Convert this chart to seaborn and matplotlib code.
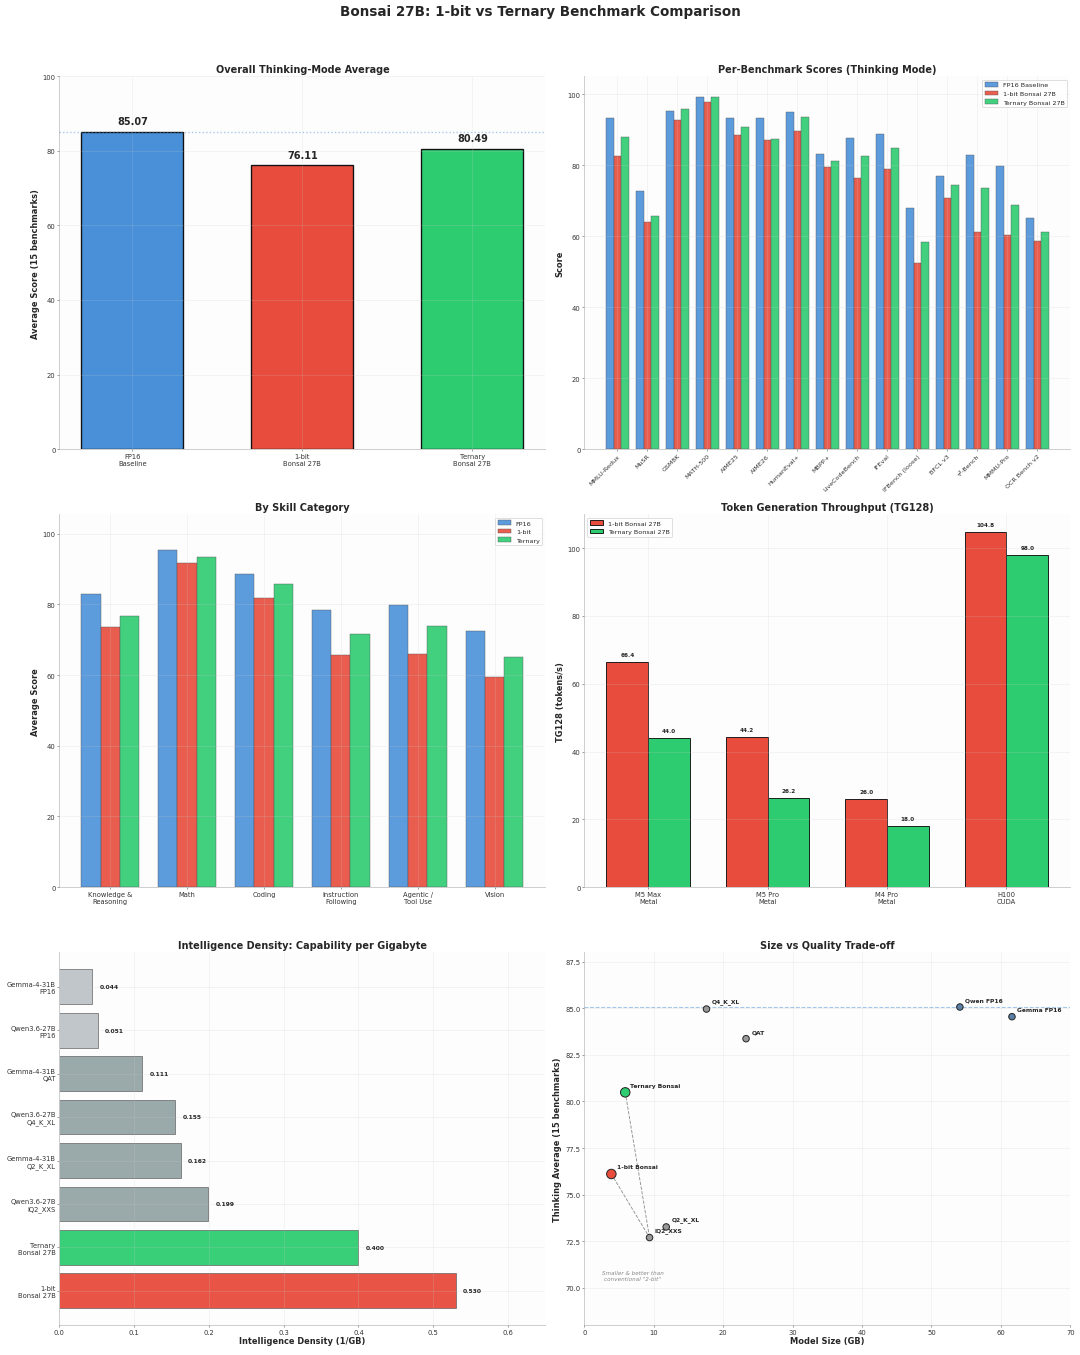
import numpy as np
import pandas as pd
import matplotlib
matplotlib.use("Agg")
import matplotlib.pyplot as plt
import seaborn as sns

# ---- data ----
model_labels = ["FP16\nBaseline", "1-bit\nBonsai 27B", "Ternary\nBonsai 27B"]
overall_avg = [85.07, 76.11, 80.49]

benchmarks = ["MMLU-Redux", "MuSR", "GSM8K", "MATH-500", "AIME25", "AIME26", "HumanEval+",
              "MBPP+", "LiveCodeBench", "IFEval", "IFBench (loose)", "BFCL v3", "τ²-Bench",
              "MMMU-Pro", "OCR Bench v2"]
bench_fp16 = [93.3, 72.7, 95.1, 99.3, 93.2, 93.2, 94.9, 83.1, 87.6, 88.8, 67.9, 76.9, 82.8, 79.8, 65.1]
bench_1bit = [82.6, 63.9, 92.7, 97.8, 88.6, 87.0, 89.5, 79.5, 76.3, 79.0, 52.3, 70.6, 61.2, 60.4, 58.6]
bench_tern = [87.9, 65.8, 95.9, 99.2, 90.7, 87.3, 93.6, 81.2, 82.6, 84.9, 58.4, 74.3, 73.5, 68.8, 61.2]

skills = ["Knowledge &\nReasoning", "Math", "Coding", "Instruction\nFollowing", "Agentic /\nTool Use", "Vision"]
skill_fp16 = [83.0, 95.3, 88.6, 78.4, 79.9, 72.5]
skill_1bit = [73.5, 91.6, 81.8, 65.7, 65.9, 59.5]
skill_tern = [76.8, 93.3, 85.8, 71.7, 73.9, 65.2]

hardware = ["M5 Max\nMetal", "M5 Pro\nMetal", "M4 Pro\nMetal", "H100\nCUDA"]
tg_1bit = [66.4, 44.2, 26.0, 104.8]
tg_tern = [44.0, 26.2, 18.0, 98.0]

density_labels = ["Gemma-4-31B\nFP16", "Qwen3.6-27B\nFP16", "Gemma-4-31B\nQAT", "Qwen3.6-27B\nQ4_K_XL",
                  "Gemma-4-31B\nQ2_K_XL", "Qwen3.6-27B\nIQ2_XXS", "Ternary\nBonsai 27B", "1-bit\nBonsai 27B"]
density_vals = [0.044, 0.051, 0.111, 0.155, 0.162, 0.199, 0.400, 0.530]
density_kind = ["fp16", "fp16", "quant", "quant", "quant", "quant", "ternary", "onebit"]

pts_names = ["1-bit Bonsai", "Ternary Bonsai", "IQ2_XXS", "Q2_K_XL", "Q4_K_XL", "QAT", "Qwen FP16", "Gemma FP16"]
pts_size_gb = [3.9, 5.9, 9.4, 11.8, 17.6, 23.3, 54.1, 61.6]
pts_score = [76.11, 80.49, 72.70, 73.27, 84.96, 83.37, 85.07, 84.55]
pts_kind = ["onebit", "ternary", "quant", "quant", "quant", "quant", "fp16", "fp16"]

BLUE, RED, GREEN = "#4a90d9", "#e74c3c", "#2ecc71"
kind_colors = {"fp16": "#bdc3c7", "quant": "#95a5a6", "ternary": GREEN, "onebit": RED}
pt_colors = {"fp16": "#5b7fa6", "quant": "#999999", "ternary": GREEN, "onebit": RED}

sns.set_theme(style="white")
plt.rcParams["font.family"] = ["DejaVu Sans"]


def style_ax(ax):
    ax.set_facecolor("#fdfdfd")
    for s in ["top", "right"]:
        ax.spines[s].set_visible(False)
    for s in ["left", "bottom"]:
        ax.spines[s].set_color("#cccccc")
    ax.tick_params(axis="both", labelsize=9, colors="#333333", length=3, color="#999999",
                   left=True, bottom=True, pad=2)
    ax.grid(True, color="#cccccc", alpha=0.3, linewidth=0.8)
    ax.set_axisbelow(False)


fig, axes = plt.subplots(3, 2, figsize=(20, 25.11), dpi=54)
fig.subplots_adjust(left=0.055, right=0.991, top=0.943, bottom=0.022, wspace=0.08, hspace=0.175)
fig.suptitle("Bonsai 27B: 1-bit vs Ternary Benchmark Comparison", fontsize=18, fontweight="bold", y=0.996)

# 1. overall average
ax = axes[0, 0]
sns.barplot(x=model_labels, y=overall_avg, hue=model_labels, palette=[BLUE, RED, GREEN], saturation=1,
            width=0.6, edgecolor="#111111", linewidth=1.8, legend=False, ax=ax)
for i, v in enumerate(overall_avg):
    ax.text(i, v + 1.5, f"{v:.2f}", ha="center", va="bottom", fontsize=13, fontweight="bold")
ax.axhline(overall_avg[0], color=BLUE, ls=":", lw=1.8, alpha=0.5, zorder=4)
ax.set_xlim(-0.43, 2.43)
ax.set_ylim(0, 100)
ax.set_ylabel("Average Score (15 benchmarks)", fontsize=11, fontweight="bold")
ax.set_title("Overall Thinking-Mode Average", fontsize=13, fontweight="bold")
style_ax(ax)

# 2. per benchmark
ax = axes[0, 1]
df_b = pd.DataFrame({"bench": benchmarks * 3,
                     "score": bench_fp16 + bench_1bit + bench_tern,
                     "model": ["FP16 Baseline"] * 15 + ["1-bit Bonsai 27B"] * 15 + ["Ternary Bonsai 27B"] * 15})
sns.barplot(data=df_b, x="bench", y="score", hue="model", palette=[BLUE, RED, GREEN], saturation=1,
            width=0.75, edgecolor="#555555", linewidth=0.6, alpha=0.9, ax=ax)
ax.set_xlim(-1.1, 15.1)
ax.set_ylim(0, 105)
ax.set_xlabel("")
ax.set_ylabel("Score", fontsize=11, fontweight="bold")
ax.set_title("Per-Benchmark Scores (Thinking Mode)", fontsize=13, fontweight="bold")
style_ax(ax)
ax.tick_params(axis="x", labelsize=8.5)
plt.setp(ax.get_xticklabels(), rotation=45, ha="right", rotation_mode="anchor")
ax.legend(loc="upper right", fontsize=8.5, title=None)

# 3. skill category
ax = axes[1, 0]
df_s = pd.DataFrame({"skill": skills * 3,
                     "score": skill_fp16 + skill_1bit + skill_tern,
                     "model": ["FP16"] * 6 + ["1-bit"] * 6 + ["Ternary"] * 6})
sns.barplot(data=df_s, x="skill", y="score", hue="model", palette=[BLUE, RED, GREEN], saturation=1,
            width=0.75, edgecolor="#555555", linewidth=0.6, alpha=0.9, ax=ax)
ax.set_xlim(-0.66, 5.66)
ax.set_ylim(0, 105.5)
ax.set_xlabel("")
ax.set_ylabel("Average Score", fontsize=11, fontweight="bold")
ax.set_title("By Skill Category", fontsize=13, fontweight="bold")
style_ax(ax)
ax.legend(loc="upper right", fontsize=8.5, title=None)

# 4. throughput
ax = axes[1, 1]
df_t = pd.DataFrame({"hw": hardware * 2, "tps": tg_1bit + tg_tern,
                     "model": ["1-bit Bonsai 27B"] * 4 + ["Ternary Bonsai 27B"] * 4})
sns.barplot(data=df_t, x="hw", y="tps", hue="model", palette=[RED, GREEN], saturation=1, width=0.7,
            edgecolor="#111111", linewidth=1.2, ax=ax)
for cont in ax.containers:
    for bar in cont:
        h = bar.get_height()
        ax.text(bar.get_x() + bar.get_width() / 2, h + 1.5, f"{h:.1f}", ha="center", va="bottom",
                fontsize=7.5, fontweight="bold")
ax.set_xlim(-0.535, 3.535)
ax.set_ylim(0, 110)
ax.set_xlabel("")
ax.set_ylabel("TG128 (tokens/s)", fontsize=11, fontweight="bold")
ax.set_title("Token Generation Throughput (TG128)", fontsize=13, fontweight="bold")
style_ax(ax)
ax.legend(loc="upper left", fontsize=8.5, title=None)

# 5. intelligence density
ax = axes[2, 0]
sns.barplot(x=density_vals, y=density_labels, hue=density_kind, palette=kind_colors, orient="h",
            saturation=1, width=0.8, edgecolor="#666666", linewidth=1.0, alpha=0.95, legend=False,
            dodge=False, ax=ax)
for i, v in enumerate(density_vals):
    ax.text(v + 0.01, i, f"{v:.3f}", ha="left", va="center", fontsize=8, fontweight="bold")
ax.set_xlim(0, 0.65)
ax.set_ylim(7.79, -0.79)
ax.set_xlabel("Intelligence Density (1/GB)", fontsize=11, fontweight="bold", labelpad=2)
ax.set_ylabel("")
ax.set_title("Intelligence Density: Capability per Gigabyte", fontsize=13, fontweight="bold")
style_ax(ax)

# 6. size vs quality
ax = axes[2, 1]
df_p = pd.DataFrame({"name": pts_names, "size": pts_size_gb, "score": pts_score, "kind": pts_kind})
for src in ["1-bit Bonsai", "Ternary Bonsai"]:
    a = df_p[df_p["name"] == src].iloc[0]
    b = df_p[df_p["name"] == "IQ2_XXS"].iloc[0]
    ax.plot([a["size"], b["size"]], [a["score"], b["score"]], ls="--", color="#777777", lw=1.2, alpha=0.8, zorder=1)
ax.axhline(overall_avg[0], color=BLUE, ls="--", lw=1.4, alpha=0.5, zorder=2.8)
sns.scatterplot(data=df_p, x="size", y="score", hue="kind", palette=pt_colors, size="kind",
                sizes={"onebit": 160, "ternary": 160, "quant": 75, "fp16": 75},
                edgecolor="#222222", linewidth=1.3, legend=False, zorder=3, ax=ax)
for _, r in df_p.iterrows():
    ax.annotate(r["name"], (r["size"], r["score"]), xytext=(7, 6), textcoords="offset points",
                fontsize=8, fontweight="bold", ha="left", va="bottom")
ax.text(7.0, 70.65, "Smaller & better than\nconventional \"2-bit\"", ha="center", va="center",
        fontsize=7.5, style="italic", color="#888888")
ax.set_xlim(0, 70)
ax.set_ylim(68, 88)
ax.set_yticks(np.arange(70, 88.1, 2.5))
ax.set_xlabel("Model Size (GB)", fontsize=11, fontweight="bold", labelpad=2)
ax.set_ylabel("Thinking Average (15 benchmarks)", fontsize=11, fontweight="bold")
ax.set_title("Size vs Quality Trade-off", fontsize=13, fontweight="bold")
style_ax(ax)

fig.savefig("out.png", dpi=54, facecolor="white")
